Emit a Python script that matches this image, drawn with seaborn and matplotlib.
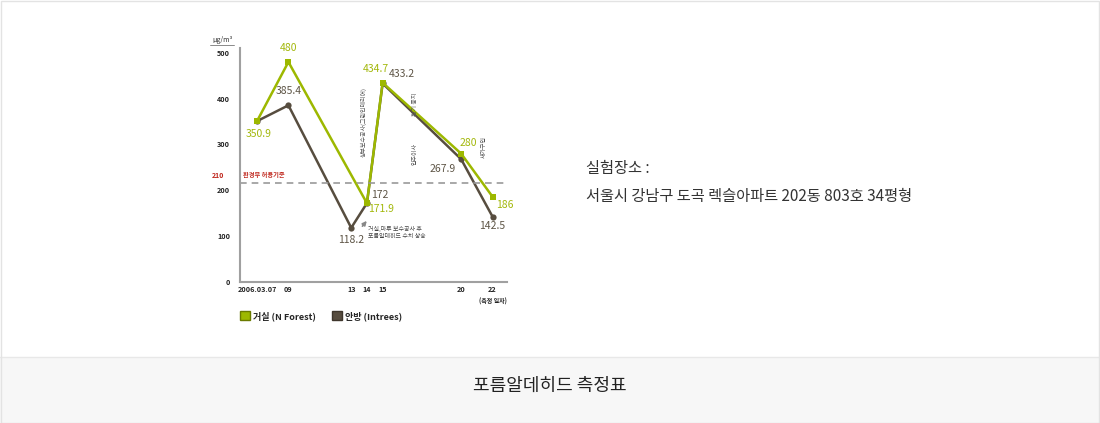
# 포름알데히드 측정표 - 거실 / 안방 비교
import pandas as pd
import numpy as np
import matplotlib.pyplot as plt
import matplotlib.patches as mpatches
import seaborn as sns

# 1. 데이터
dias_forest = [7, 9, 14, 15, 20, 22]
valores_forest = [350.9, 480, 171.9, 434.7, 280, 186]
dias_intrees = [7, 9, 13, 14, 15, 20, 22]
valores_intrees = [350.9, 385.4, 118.2, 172, 433.2, 267.9, 142.5]
rotulos_forest = ["350.9", "480", "171.9", "434.7", "280", "186"]
rotulos_intrees = ["", "385.4", "118.2", "172", "433.2", "267.9", "142.5"]
dias_ticks = [7, 9, 13, 14, 15, 20, 22]
rotulos_ticks = ["2006.03.07", "09", "13", "14", "15", "20", "22"]
y_ticks = [0, 100, 200, 300, 400, 500]
limite = 217          # posição da linha tracejada
rotulo_limite = "210"

serie_forest = "거실 (N Forest)"
serie_intrees = "안방 (Intrees)"

df = pd.concat([
    pd.DataFrame({"dia": dias_forest, "valor": valores_forest, "serie": serie_forest}),
    pd.DataFrame({"dia": dias_intrees, "valor": valores_intrees, "serie": serie_intrees}),
])

verde = "#9db800"
marrom = "#574d3f"
cor_verde_txt = "#a3b80c"
cor_marrom_txt = "#5e5546"

# 2. Figura
sns.set_style("white")
plt.rcParams['font.family'] = ['Noto Sans CJK KR', 'DejaVu Sans']

fig = plt.figure(figsize=(11, 4.23), dpi=100)
fig.patch.set_facecolor("white")

# faixa cinza inferior
fig.patches.append(mpatches.Rectangle((0, 0), 1, 66 / 423, transform=fig.transFigure,
                                      facecolor="#f7f7f7", edgecolor="none", zorder=0))
fig.add_artist(plt.Line2D([0, 1], [66 / 423, 66 / 423], transform=fig.transFigure,
                          color="#e8e8e8", lw=1))
fig.patches.append(mpatches.Rectangle((0.0005, 0.001), 0.999, 0.997, transform=fig.transFigure,
                                      facecolor="none", edgecolor="#e3e3e3", lw=1, zorder=5))

ax = fig.add_axes([240 / 1100, 1 - 282 / 423, 267 / 1100, 237 / 423])
ax.set_facecolor("none")

sns.lineplot(data=df, x="dia", y="valor", hue="serie", style="serie",
             palette={serie_forest: verde, serie_intrees: marrom},
             markers={serie_forest: "s", serie_intrees: "o"}, dashes=False,
             markersize=4.5, markeredgewidth=0, linewidth=1.8, legend=False,
             hue_order=[serie_intrees, serie_forest], ax=ax)

ax.set_xlim(5.917, 22.92)
ax.set_ylim(0, 517)
ax.set_xlabel("")
ax.set_ylabel("")

ax.set_xticks(dias_ticks)
ax.set_xticklabels(rotulos_ticks, fontsize=5.2, fontweight="bold", color="#222")
ax.set_yticks(y_ticks)
ax.set_yticklabels([str(v) for v in y_ticks], fontsize=5.2, fontweight="bold", color="#222")
ax.tick_params(axis="x", direction="in", length=3, color="#999", pad=3)
ax.tick_params(axis="y", direction="out", length=3, color="#999", pad=4)

for lado in ["top", "right"]:
    ax.spines[lado].set_visible(False)
ax.spines["left"].set_color("#a0a0a0")
ax.spines["left"].set_linewidth(1.5)
ax.spines["left"].set_bounds(0, 510)
ax.spines["bottom"].set_color("#a0a0a0")
ax.spines["bottom"].set_linewidth(1.5)

# linha de limite
ax.axhline(limite, color="#999", lw=1.2, ls=(0, (4, 3)), xmax=0.99)
ax.text(6.1, limite + 12, "환경부 허용기준", fontsize=4.5, color="#c0281e", fontweight="bold")
ax.annotate(rotulo_limite, xy=(0, limite), xycoords=("axes fraction", "data"),
            xytext=(-20, 5), textcoords="offset points", fontsize=5, fontweight="bold",
            color="#c0281e", va="center")

# 3. Rótulos dos pontos (deslocamento em pontos)
desl_forest = [(1, -9), (0, 10), (10, -4), (-5, 10), (5, 8), (9, -6)]
desl_intrees = [(0, 0), (0, 10), (0, -9), (9, 6), (14, 7), (-13, -7), (0, -7)]

for d, v, r, (dx, dy) in zip(dias_forest, valores_forest, rotulos_forest, desl_forest):
    ax.annotate(r, (d, v), xytext=(dx, dy), textcoords="offset points", ha="center",
                va="center", fontsize=7.5, color=cor_verde_txt, fontweight="medium")
for d, v, r, (dx, dy) in zip(dias_intrees, valores_intrees, rotulos_intrees, desl_intrees):
    if r:
        ax.annotate(r, (d, v), xytext=(dx, dy), textcoords="offset points", ha="center",
                    va="center", fontsize=7.5, color=cor_marrom_txt)

# 4. Anotações
ax.annotate("", xy=(14.1, 138), xytext=(13.6, 117),
            arrowprops=dict(arrowstyle="-|>", color="#888", lw=1.2, mutation_scale=6))
ax.text(14.1, 122, "거실,마루 보수공사 후\n포름알데히드 수치 상승", fontsize=4.3,
        color="#444", va="top", linespacing=1.5)
ax.text(13.8, 272, "상부보수공사(그린인테리어)", rotation=90, fontsize=4.3,
        color="#555", ha="center", va="bottom")
ax.text(17.1, 362, "환기 중지", rotation=90, fontsize=4.3, color="#555", ha="center", va="bottom")
ax.text(17.1, 255, "입주이사", rotation=90, fontsize=4.3, color="#555", ha="center", va="bottom")
ax.text(21.5, 270, "새가구입", rotation=90, fontsize=4.3, color="#555", ha="center", va="bottom")
ax.annotate("(측정 일자)", xy=(22, 0), xytext=(0, -14), textcoords="offset points",
            ha="center", va="center", fontsize=4.3, color="#222", fontweight="bold")

# unidade
fig.text(212 / 1100, 1 - 40 / 423, "μg/m³", fontsize=5, color="#333", style="italic", va="center")
fig.add_artist(plt.Line2D([210 / 1100, 234 / 1100], [1 - 45 / 423, 1 - 45 / 423],
                          transform=fig.transFigure, color="#777", lw=0.6))

# legenda
handles = [mpatches.Patch(facecolor=verde, edgecolor="#6a7a00", label=serie_forest),
           mpatches.Patch(facecolor=marrom, edgecolor="#3e362c", label=serie_intrees)]
fig.legend(handles=handles, loc="upper left", bbox_to_anchor=(232 / 1100, 1 - 303 / 423),
           ncol=2, frameon=False, handlelength=1.1, handleheight=1.1,
           handletextpad=0.3, columnspacing=1.8, prop={"weight": "bold", "size": 6.5})

# 5. Textos laterais
fig.text(586 / 1100, 1 - 168 / 423, "실험장소 :", fontsize=11, color="#333", va="center")
fig.text(586 / 1100, 1 - 196 / 423, "서울시 강남구 도곡 렉슬아파트 202동 803호 34평형",
         fontsize=11, color="#333", va="center")
fig.text(0.5, 1 - 386 / 423, "포름알데히드 측정표", fontsize=13, color="#222",
         ha="center", va="center")

plt.savefig("out.png", dpi=100)
